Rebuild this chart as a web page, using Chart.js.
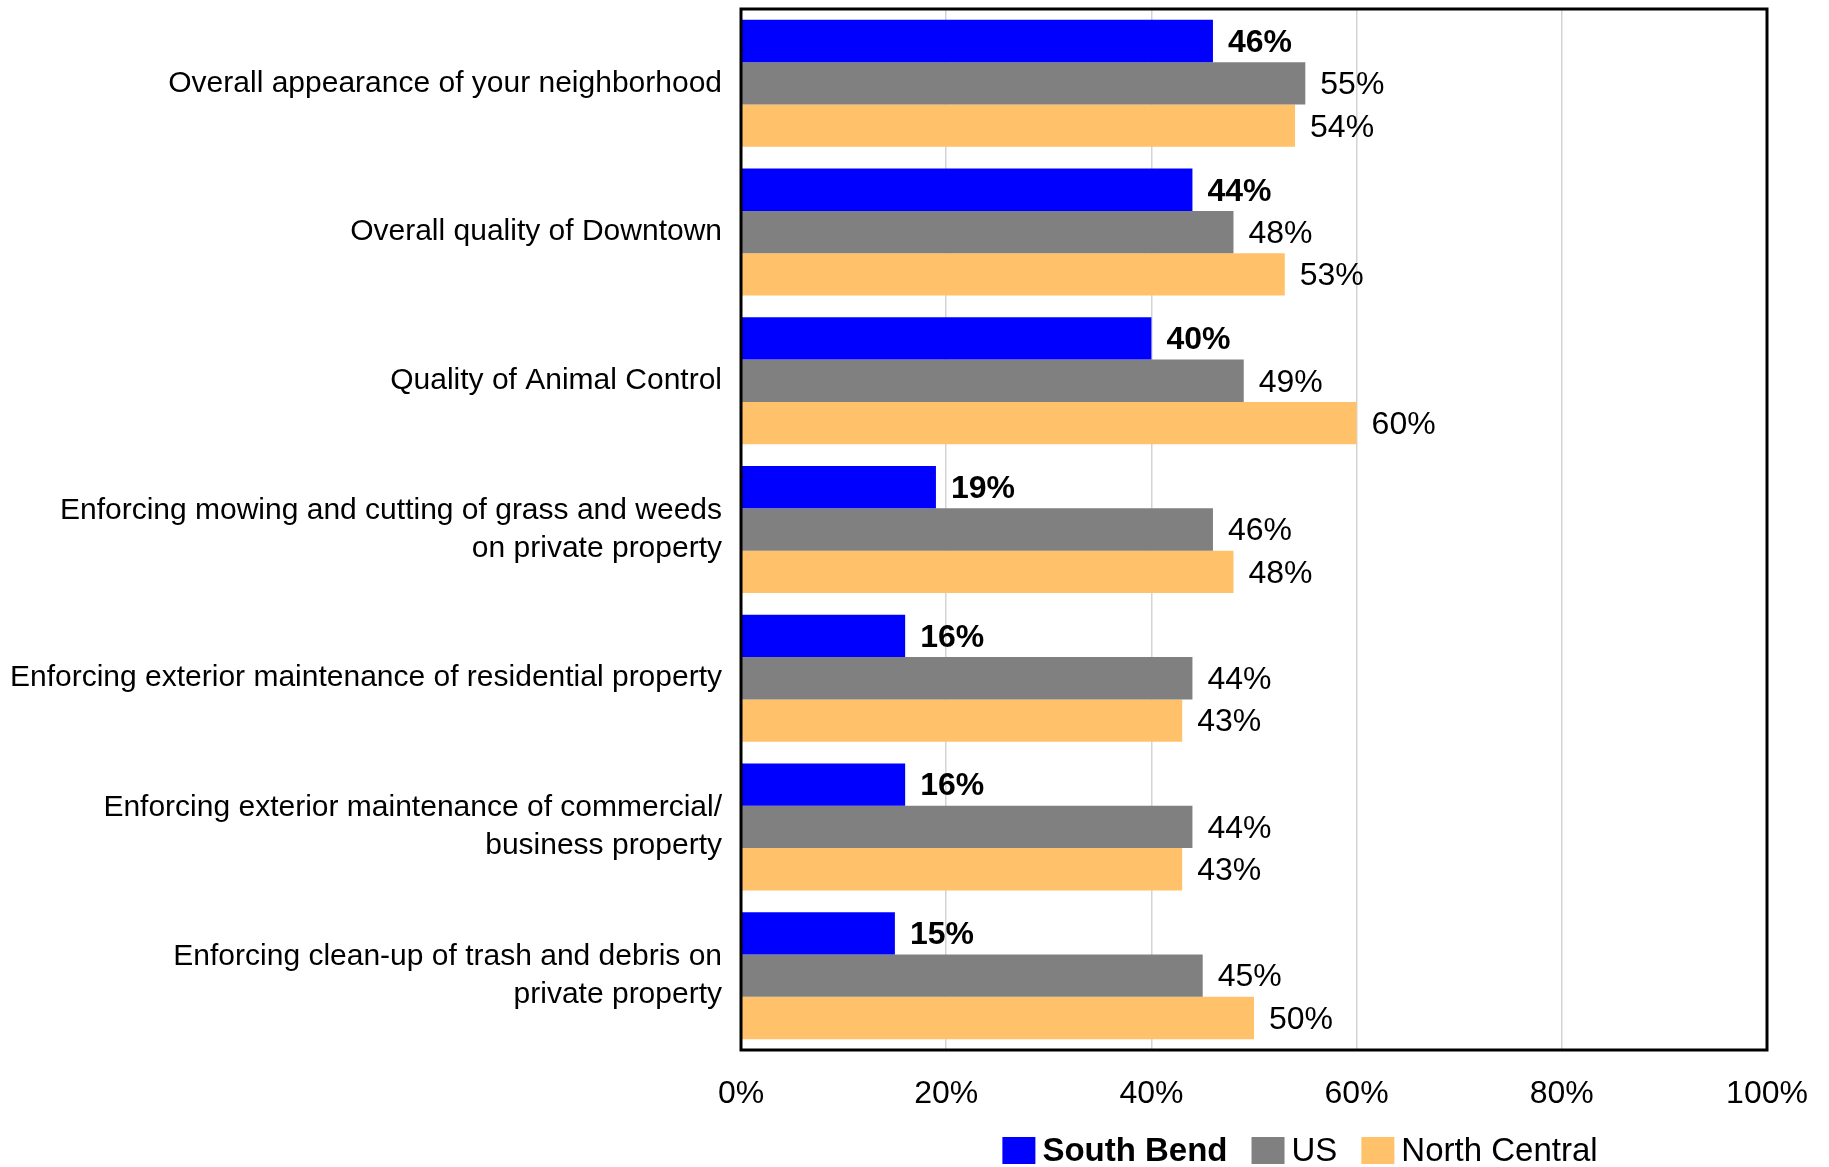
<!DOCTYPE html>
<html>
<head>
<meta charset="utf-8">
<script src="https://cdn.jsdelivr.net/npm/chart.js@4.4.1/dist/chart.umd.min.js"></script>
<style>
  html, body { margin: 0; padding: 0; background: #fff; }
  #wrap { width: 1829px; height: 1167px; position: relative; }
</style>
</head>
<body>
<div id="wrap"><canvas id="chart" width="1829" height="1167"></canvas></div>
<script>
const categories = [
    ["Overall appearance of your neighborhood"],
    ["Overall quality of Downtown"],
    ["Quality of Animal Control"],
    ["Enforcing mowing and cutting of grass and weeds", "on private property"],
    ["Enforcing exterior maintenance of residential property"],
    ["Enforcing exterior maintenance of commercial/", "business property"],
    ["Enforcing clean-up of trash and debris on", "private property"],
]
const southBend = [46, 44, 40, 19, 16, 16, 15]
const us = [55, 48, 49, 46, 44, 44, 45]
const northCentral = [54, 53, 60, 48, 43, 43, 50]
const seriesNames = ["South Bend", "US", "North Central"]
const seriesColors = ["#0000ff", "#808080", "#ffc169"]
const xTicks = [0, 20, 40, 60, 80, 100]

const FONT = "'Liberation Sans', Arial, sans-serif"
const FS = 30
const VALUE_FS = 32
const LEGEND_FS = 33

// value labels next to each bar, South Bend in bold
const barLabels = {
    id: "barLabels",
    afterDatasetsDraw(chart) {
        const ctx = chart.ctx
        ctx.save()
        ctx.fillStyle = "#000"
        ctx.textAlign = "left"
        ctx.textBaseline = "middle"
        chart.data.datasets.forEach((ds, i) => {
            const meta = chart.getDatasetMeta(i)
            ctx.font = (i === 0 ? "bold " : "") + VALUE_FS + "px " + FONT
            meta.data.forEach((bar, j) => {
                ctx.fillText(ds.data[j] + "%", bar.x + 15, bar.y + 2)
            })
        })
        ctx.restore()
    },
}

// black frame around the plot area
const plotFrame = {
    id: "plotFrame",
    afterDraw(chart) {
        const { left, top, right, bottom } = chart.chartArea
        const ctx = chart.ctx
        ctx.save()
        ctx.strokeStyle = "#000"
        ctx.lineWidth = 3
        ctx.strokeRect(left, top, right - left, bottom - top)
        ctx.restore()
    },
}

// legend drawn under the plot
const bottomLegend = {
    id: "bottomLegend",
    afterDraw(chart) {
        const ctx = chart.ctx
        const box = 33
        const gap = 7
        const spacing = 24
        const y = 1150
        ctx.save()
        const items = seriesNames.map((name, i) => {
            ctx.font = (i === 0 ? "bold " : "") + LEGEND_FS + "px " + FONT
            return { name, i, w: ctx.measureText(name).width }
        })
        const total = items.reduce((s, it) => s + box + gap + it.w, 0) + spacing * (items.length - 1)
        let x = 1300 - total / 2
        ctx.textBaseline = "middle"
        ctx.textAlign = "left"
        items.forEach((it) => {
            ctx.fillStyle = seriesColors[it.i]
            ctx.fillRect(x, y - 13, box, 27)
            ctx.fillStyle = "#000"
            ctx.font = (it.i === 0 ? "bold " : "") + LEGEND_FS + "px " + FONT
            ctx.fillText(it.name, x + box + gap, y + 2)
            x += box + gap + it.w + spacing
        })
        ctx.restore()
    },
}

new Chart(document.getElementById("chart"), {
    type: "bar",
    data: {
        labels: categories,
        datasets: [southBend, us, northCentral].map((values, i) => ({
            label: seriesNames[i],
            data: values,
            backgroundColor: seriesColors[i],
            borderWidth: 0,
            categoryPercentage: 0.854,
            barPercentage: 1,
        })),
    },
    options: {
        indexAxis: "y",
        responsive: false,
        animation: false,
        layout: { padding: { top: 9, right: 62, left: 0, bottom: 0 } },
        plugins: {
            legend: { display: false },
            tooltip: { enabled: false },
        },
        scales: {
            x: {
                min: 0,
                max: 100,
                afterBuildTicks: (scale) => {
                    scale.ticks = xTicks.map((v) => ({ value: v }))
                },
                afterFit: (scale) => {
                    scale.height = 117
                    scale.paddingLeft = 0
                    scale.paddingRight = 0
                },
                grid: {
                    color: (c) => (c.tick && (c.tick.value === 0 || c.tick.value === 100) ? "rgba(0,0,0,0)" : "#d4d4d4"),
                    lineWidth: 1.5,
                    drawTicks: false,
                },
                border: { display: false },
                ticks: {
                    color: "#000",
                    padding: 25,
                    maxRotation: 0,
                    font: { family: FONT, size: VALUE_FS },
                    callback: (v) => v + "%",
                },
            },
            y: {
                afterFit: (scale) => {
                    scale.width = 741
                    scale.paddingTop = 0
                    scale.paddingBottom = 0
                },
                grid: { display: false, drawTicks: false },
                border: { display: false },
                ticks: {
                    color: "#000",
                    padding: 19,
                    autoSkip: false,
                    font: { family: FONT, size: FS, lineHeight: 1.28 },
                },
            },
        },
    },
    plugins: [barLabels, plotFrame, bottomLegend],
})
</script>
</body>
</html>
